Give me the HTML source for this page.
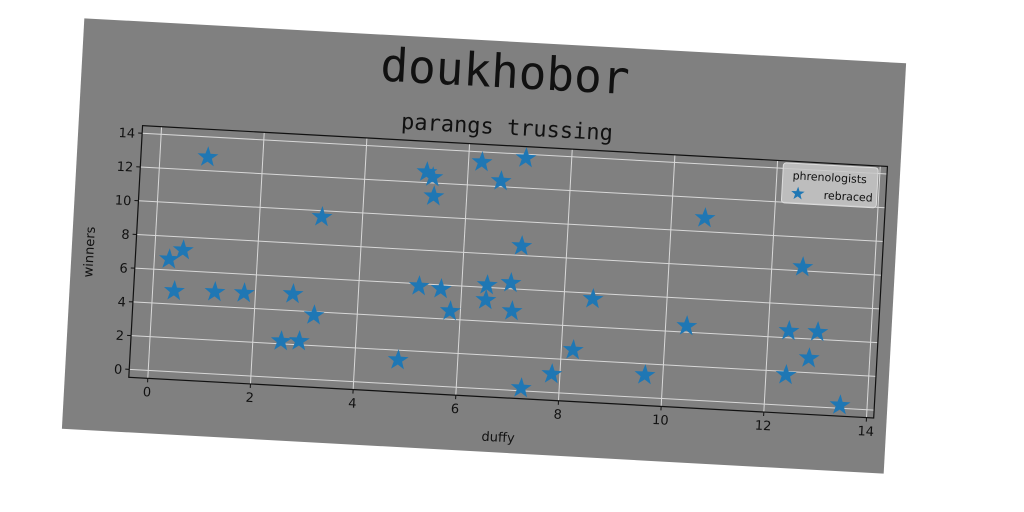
<!DOCTYPE html>
<html><head><meta charset="utf-8"><style>
html,body{margin:0;padding:0;background:#fff;}
svg{display:block;}
text{font-family:"DejaVu Sans","Liberation Sans",sans-serif;}
</style></head><body>
<svg id="chart" width="1024" height="512" viewBox="0 0 1024 512">
<g id="panel" transform="translate(484,246) rotate(3.13) translate(-411.5,-205.5)">
<rect x="0" y="0" width="823" height="411" fill="#808080"/>
<text x="423" y="46" text-anchor="middle" font-size="46" style="font-family:'DejaVu Sans Mono','Liberation Mono',monospace" fill="#111">doukhobor</text>
<text x="428" y="93" text-anchor="middle" font-size="22" style="font-family:'DejaVu Sans Mono','Liberation Mono',monospace" fill="#111">parangs trussing</text>
<g id="grid"></g>
<g id="ticks"></g>
<g id="marks"></g>
<rect x="64" y="104" width="746" height="252" fill="none" stroke="#111" stroke-width="1.2"/>
<text x="436" y="400" text-anchor="middle" font-size="13" fill="#111">duffy</text>
<text transform="translate(22,233) rotate(-90)" text-anchor="middle" font-size="13" fill="#111">winners</text>
<g>
<rect x="706" y="106" width="95" height="40" rx="3" fill="#c8c8c8" fill-opacity="0.85" stroke="#ddd"/>
<text x="753" y="122" text-anchor="middle" font-size="11" fill="#111">phrenologists</text>
<polygon points="" id="legstar" fill="#1f77b4"/>
<text x="797" y="140" text-anchor="end" font-size="11" fill="#111">rebraced</text>
</g>
</g>
</svg>
<script>
const xValues=[0.29,0.55,0.42,0.93,1.21,1.78,2.55,2.90,2.73,3.16,3.21,4.84,5.17,5.20,5.32,5.36,5.60,5.80,6.26,6.49,6.48,6.65,6.95,7.00,7.12,7.11,7.26,7.84,8.23,8.56,9.65,10.41,10.65,12.39,12.40,12.82,12.60,12.96,13.47];
const yValues=[6.64,7.22,4.78,12.8,4.85,4.88,2.16,2.22,4.98,3.80,9.63,1.42,5.86,12.62,12.34,11.22,5.76,4.48,13.39,6.14,5.25,12.33,6.34,4.68,8.56,13.77,0.16,1.09,2.58,5.66,1.33,4.36,10.8,1.79,4.40,2.86,8.22,4.43,0.18];
const xTicks=[0,2,4,6,8,10,12,14];
const yTicks=[0,2,4,6,8,10,12,14];
const NS="http://www.w3.org/2000/svg";
const L=64,T=104,W=746,H=252,xMin=-0.37,xMax=14.14,yMin=-0.47,yMax=14.45;
const sx=v=>L+(v-xMin)/(xMax-xMin)*W;
const sy=v=>T+H-(v-yMin)/(yMax-yMin)*H;
function mk(tag,attrs,parent){const e=document.createElementNS(NS,tag);for(const k in attrs)e.setAttribute(k,attrs[k]);parent.appendChild(e);return e;}
function starPts(cx,cy,R){const r=R*0.4;let p=[];for(let i=0;i<10;i++){const a=-Math.PI/2+i*Math.PI/5;const rr=i%2?r:R;p.push((cx+rr*Math.cos(a)).toFixed(1)+","+(cy+rr*Math.sin(a)).toFixed(1));}return p.join(" ");}
const grid=document.getElementById('grid'),ticks=document.getElementById('ticks'),marks=document.getElementById('marks');
xTicks.forEach(t=>{const x=sx(t);
 const g=mk('line',{x1:x,x2:x,y1:T,y2:T+H,stroke:'#d8d8d8','stroke-width':1},grid);
 
 
 const tk=mk('line',{x1:x,x2:x,y1:T+H,y2:T+H+4,stroke:'#111'},ticks);
 
 
 const tx=mk('text',{x:x,y:T+H+18,'text-anchor':'middle','font-size':13,fill:'#111'},ticks);tx.textContent=t;
 
 
});
yTicks.forEach(t=>{const y=sy(t);
 const g=mk('line',{x1:L,x2:L+W,y1:y,y2:y,stroke:'#d8d8d8','stroke-width':1},grid);
 
 
 const tk=mk('line',{x1:L-4,x2:L,y1:y,y2:y,stroke:'#111'},ticks);
 
 
 const tx=mk('text',{x:L-7,y:y+5,'text-anchor':'end','font-size':13,fill:'#111'},ticks);tx.textContent=t;
 
 
});
xValues.forEach((v,i)=>{
 const p=mk('polygon',{points:starPts(sx(v),sy(yValues[i]),11),fill:'#1f77b4'},marks);
 
 
});
document.getElementById('legstar').setAttribute('points',starPts(722,136,7));
</script>
</body></html>
